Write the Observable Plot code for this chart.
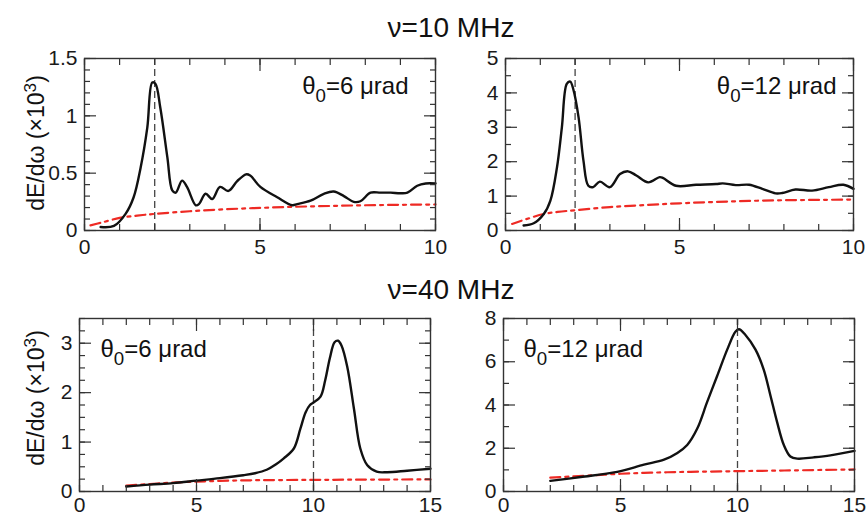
<!DOCTYPE html>
<html><head><meta charset="utf-8">
<script src="https://cdn.jsdelivr.net/npm/d3@7"></script>
<script src="https://cdn.jsdelivr.net/npm/@observablehq/plot@0.6"></script>
<style>
body{margin:0;background:#fff;font-family:"Liberation Sans",Arial,Helvetica,sans-serif;}
#root{position:relative;width:866px;height:518px;overflow:hidden;background:#fff;}
.panel{position:absolute;}
.title{position:absolute;font-size:28px;line-height:1;color:#111;white-space:nowrap;transform:translateX(-50%);}
.ylab{position:absolute;font-size:23px;line-height:1;color:#111;white-space:nowrap;transform:translate(-50%,-50%) rotate(-90deg);}
.ylab sup{font-size:0.75em;vertical-align:0.45em;line-height:0;}
</style></head>
<body><div id="root"></div>
<script>
// ---- Panel (a): nu = 10 MHz, theta0 = 6 urad ----
const a_bx = [0.46,0.84,1.17,1.4,1.6,1.79,1.93,2.02,2.16,2.36,2.5,2.6,2.78,2.92,3.17,3.26,3.45,3.64,3.86,4.1,4.35,4.6,4.72,5.01,5.49,5.92,6.06,6.44,6.82,7.1,7.39,7.67,7.86,8.15,8.43,8.72,9.0,9.2,9.48,9.72,10];
const a_by = [0.03,0.04,0.145,0.29,0.55,0.9,1.29,1.28,1.07,0.64,0.35,0.33,0.435,0.38,0.22,0.23,0.32,0.275,0.38,0.345,0.43,0.49,0.48,0.38,0.29,0.22,0.23,0.26,0.32,0.34,0.30,0.25,0.255,0.33,0.33,0.33,0.325,0.33,0.39,0.41,0.41];
const a_rx = [0.17,0.5,1.0,1.5,2.0,3.0,4.0,5.0,6.0,7.0,8.0,9.0,10];
const a_ry = [0.045,0.07,0.11,0.13,0.145,0.168,0.185,0.197,0.207,0.214,0.22,0.224,0.227];
// ---- Panel (b): nu = 10 MHz, theta0 = 12 urad ----
const b_bx = [0.52,0.81,1.1,1.29,1.48,1.62,1.76,1.86,1.95,2.1,2.24,2.38,2.52,2.71,3.0,3.29,3.52,3.76,4.1,4.43,4.52,4.9,5.48,6.05,6.24,6.62,7.0,7.38,7.76,7.95,8.33,8.81,9.29,9.71,10];
const b_by = [0.145,0.21,0.48,0.87,1.84,3.0,4.26,4.33,4.1,3.29,2.03,1.3,1.26,1.42,1.26,1.64,1.72,1.6,1.4,1.55,1.53,1.3,1.33,1.35,1.37,1.32,1.33,1.21,1.08,1.09,1.19,1.16,1.26,1.33,1.21];
const b_rx = [0.19,0.6,1.1,1.5,2.0,3.0,4.0,5.0,6.0,7.0,8.0,9.0,10];
const b_ry = [0.19,0.33,0.48,0.54,0.59,0.68,0.74,0.79,0.83,0.86,0.88,0.89,0.9];
// ---- Panel (c): nu = 40 MHz, theta0 = 6 urad ----
const c_bx = [2,3,4,5,6,7,7.5,8,8.4,8.73,9.16,9.44,9.66,9.85,10.0,10.3,10.5,10.7,10.9,11.05,11.2,11.44,11.73,12.0,12.3,12.7,13.15,14,15];
const c_by = [0.1,0.14,0.17,0.22,0.27,0.33,0.37,0.44,0.55,0.67,0.87,1.27,1.6,1.75,1.8,1.92,2.25,2.7,3.02,3.05,2.95,2.53,1.67,0.87,0.53,0.4,0.39,0.42,0.46];
const c_rx = [2,3,4,5,6,7,8,10,12,15];
const c_ry = [0.12,0.15,0.18,0.2,0.215,0.225,0.23,0.235,0.24,0.245];
// ---- Panel (d): nu = 40 MHz, theta0 = 12 urad ----
const d_bx = [2,3.3,4.86,6,6.86,7.43,7.85,8.28,8.7,9.13,9.56,9.91,10.06,10.34,10.77,11.12,11.41,11.69,11.98,12.26,12.55,13.26,13.97,15];
const d_by = [0.49,0.67,0.91,1.24,1.47,1.78,2.15,2.91,4.13,5.34,6.56,7.39,7.5,7.24,6.56,5.64,4.43,3.22,2.15,1.62,1.52,1.58,1.67,1.88];
const d_rx = [2,3,4,5,6,7,8,10,12,15];
const d_ry = [0.64,0.7,0.76,0.82,0.86,0.89,0.91,0.94,0.97,1.02];

// tick labels
const xMajor10 = [0,5,10];
const xMajor15 = [0,5,10,15];
const yMajorA = [0,0.5,1,1.5];
const yMajorB = [0,1,2,3,4,5];
const yMajorC = [0,1,2,3];
const yMajorD = [0,2,4,6,8];

const titles = ["ν=10 MHz","ν=40 MHz"];
const annotations = ["θ0=6 μrad","θ0=12 μrad","θ0=6 μrad","θ0=12 μrad"];
const resonance = [2,2,10,10];

const FONT = '"Liberation Sans", Arial, Helvetica, sans-serif';
const root = document.getElementById("root");

function panel(o) {
  const black = o.bx.map((x,i)=>({x, y:o.by[i]}));
  const red = o.rx.map((x,i)=>({x, y:o.ry[i]}));
  const tc = "#333";
  const tickAxes = [];
  const shift = {bottom:{dy:-1}, top:{dy:1}, left:{dx:1}, right:{dx:-1}};
  for (const [ticks, size] of [[o.xMinor, 6], [o.xMajor, 12]]) {
    for (const a of ["bottom","top"]) {
      tickAxes.push(Plot.axisX({anchor:a, ticks, tickSize:size, dy:shift[a].dy*size, tickFormat:()=>"", stroke:tc, strokeWidth:1.2, label:null}));
    }
  }
  for (const [ticks, size] of [[o.yMinor, 6], [o.yMajor, 12]]) {
    for (const a of ["left","right"]) {
      tickAxes.push(Plot.axisY({anchor:a, ticks, tickSize:size, dx:shift[a].dx*size, tickFormat:()=>"", stroke:tc, strokeWidth:1.2, label:null}));
    }
  }
  const svg = Plot.plot({
    width:o.w, height:o.h, marginLeft:o.mL, marginRight:o.mR, marginTop:o.mT, marginBottom:o.mB,
    x:{domain:o.xdom, label:null}, y:{domain:o.ydom, label:null},
    style:{fontFamily:FONT, fontSize:"21px", color:"#1a1a1a", background:"transparent", overflow:"visible"},
    marks:[
      Plot.ruleX([o.vline], {stroke:"#444", strokeWidth:1.3, strokeDasharray:"7,4"}),
      Plot.line(red, {x:"x", y:"y", stroke:"#ee2a24", strokeWidth:2.2, strokeDasharray:"10,5,3,5", curve:"catmull-rom"}),
      Plot.line(black, {x:"x", y:"y", stroke:"#111", strokeWidth:2.4, curve:"catmull-rom"}),
      ...tickAxes,
      Plot.axisX({anchor:"bottom", ticks:o.xMajor, tickSize:0, tickPadding:o.xPad, tickFormat:d=>String(d), fontSize:21, label:null}),
      Plot.axisY({anchor:"left", ticks:o.yMajor, tickSize:0, tickPadding:7, tickFormat:d=>String(d), fontSize:21, label:null}),
      Plot.frame({stroke:tc, strokeWidth:1.4}),
      Plot.text([o.label], {text:d=>d, frameAnchor:o.right ? "top-right" : "top-left", textAnchor:o.right ? "end" : "start",
        lineAnchor:"middle", dx:o.tdx, dy:o.tdy, fontSize:24, fill:"#111"})
    ]
  });
  d3.select(svg).selectAll("text").filter(function(){ return this.textContent.startsWith("θ0"); }).each(function(){
    const s = this.textContent; const t = d3.select(this); t.text("");
    t.append("tspan").text("θ");
    t.append("tspan").attr("dy", 8).attr("font-size", "0.78em").text("0");
    t.append("tspan").attr("dy", -8).text(s.slice(2));
  });
  const div = document.createElement("div");
  div.className = "panel";
  div.style.left = o.left + "px"; div.style.top = o.top + "px";
  div.appendChild(svg);
  root.appendChild(div);
}

panel({left:0, top:40, w:445, h:220, mL:84, mR:10, mT:18, mB:30, xPad:9,
  bx:a_bx, by:a_by, rx:a_rx, ry:a_ry, vline:resonance[0], xdom:[0,10], ydom:[0,1.5],
  xMajor:xMajor10, xMinor:d3.range(0,11,1), yMajor:yMajorA, yMinor:d3.range(0,16).map(i=>i/10),
  label:annotations[0], right:true, tdx:-27, tdy:28});
panel({left:445, top:40, w:421, h:220, mL:60, mR:13, mT:18, mB:30, xPad:9,
  bx:b_bx, by:b_by, rx:b_rx, ry:b_ry, vline:resonance[1], xdom:[0,10], ydom:[0,5],
  xMajor:xMajor10, xMinor:d3.range(0,11,1), yMajor:yMajorB, yMinor:d3.range(0,11).map(i=>i/2),
  label:annotations[1], right:true, tdx:-17, tdy:28});
panel({left:0, top:298, w:440, h:220, mL:79, mR:10, mT:20, mB:27, xPad:6,
  bx:c_bx, by:c_by, rx:c_rx, ry:c_ry, vline:resonance[2], xdom:[0,15], ydom:[0,3.5],
  xMajor:xMajor15, xMinor:d3.range(0,16,1), yMajor:yMajorC, yMinor:d3.range(0,15).map(i=>i/4),
  label:annotations[2], right:false, tdx:21, tdy:31});
panel({left:440, top:298, w:426, h:220, mL:63, mR:12, mT:20, mB:27, xPad:6,
  bx:d_bx, by:d_by, rx:d_rx, ry:d_ry, vline:resonance[3], xdom:[0,15], ydom:[0,8],
  xMajor:xMajor15, xMinor:d3.range(0,16,1), yMajor:yMajorD, yMinor:d3.range(0,9,1),
  label:annotations[3], right:false, tdx:20, tdy:31});

function addTitle(text, x, top) {
  const d = document.createElement("div"); d.className = "title";
  d.style.left = x + "px"; d.style.top = top + "px"; d.textContent = text; root.appendChild(d);
}
addTitle(titles[0], 451, 14);
addTitle(titles[1], 451, 276);

function addYLabel(x, y) {
  const d = document.createElement("div"); d.className = "ylab";
  d.style.left = x + "px"; d.style.top = y + "px";
  d.innerHTML = "dE/dω (×10<sup>3</sup>)"; root.appendChild(d);
}
addYLabel(36, 143);
addYLabel(36, 398);
</script>
</body></html>
